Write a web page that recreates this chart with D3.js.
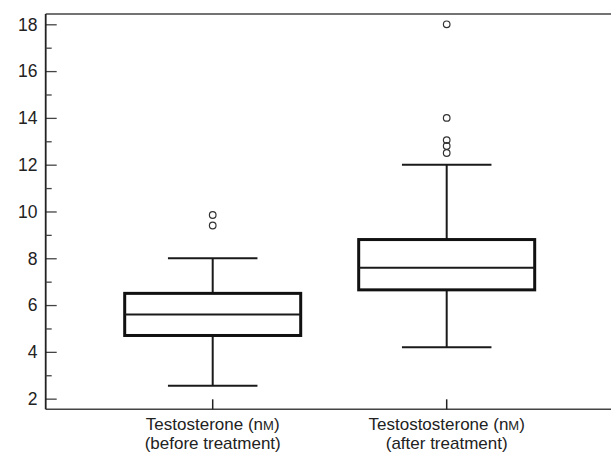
<!DOCTYPE html>
<html>
<head>
<meta charset="utf-8">
<script src="https://cdn.jsdelivr.net/npm/d3@7"></script>
<style>
  html, body { margin: 0; padding: 0; background: #fff; }
  svg text { font-family: "Liberation Sans", Arial, sans-serif; fill: #222; }
</style>
</head>
<body>
<svg id="chart" width="611" height="453"></svg>
<script>
// ---- data ----
const categories = ["before", "after"];
const labelBase = ["Testosterone", "Testostosterone"];
const labelLine2 = ["(before treatment)", "(after treatment)"];
const whiskerLow = [2.55, 4.2];
const q1 = [4.7, 6.65];
const median = [5.6, 7.6];
const q3 = [6.5, 8.8];
const whiskerHigh = [8.0, 12.0];
const outliersBefore = [9.4, 9.85];
const outliersAfter = [12.5, 12.8, 13.05, 14.0, 18.0];
const majorTicks = [2, 4, 6, 8, 10, 12, 14, 16, 18];
const minorTicks = [3, 5, 7, 9, 11, 13, 15, 17];

const outliers = [outliersBefore, outliersAfter];
const boxes = categories.map((c, i) => ({
  cat: c, lo: whiskerLow[i], q1: q1[i], med: median[i], q3: q3[i], hi: whiskerHigh[i],
  out: outliers[i], l1: labelBase[i], l2: labelLine2[i]
}));

// ---- layout ----
const svg = d3.select("#chart");
const mLeft = 45.7, mRight = 613.7, mTop = 14, mBottom = 409.3;

const y = d3.scaleLinear().domain([1.545, 18.44]).range([mBottom, mTop]);
const x = d3.scalePoint().domain(categories).range([mLeft, mRight]).padding(0.7137);
const cx = c => x(c);
const boxW = 176, capW = 89.5;

const axisColor = "#444";
svg.append("line").attr("x1", mLeft).attr("x2", 611).attr("y1", mTop).attr("y2", mTop)
  .attr("stroke", axisColor).attr("stroke-width", 1.5);
svg.append("line").attr("x1", mLeft).attr("x2", 611).attr("y1", mBottom).attr("y2", mBottom)
  .attr("stroke", axisColor).attr("stroke-width", 1.5);

const yAxis = d3.axisRight(y).tickValues(majorTicks).tickSize(11).tickFormat("");
const gy = svg.append("g").attr("transform", `translate(${mLeft},0)`).call(yAxis);
gy.select(".domain").remove();
gy.selectAll(".tick line").attr("stroke", axisColor).attr("stroke-width", 1.3);
svg.append("line").attr("x1", mLeft).attr("x2", mLeft).attr("y1", mTop).attr("y2", mBottom)
  .attr("stroke", "#222").attr("stroke-width", 1.8);

const yMinor = d3.axisRight(y).tickValues(minorTicks).tickSize(6).tickFormat("");
const gm = svg.append("g").attr("transform", `translate(${mLeft},0)`).call(yMinor);
gm.select(".domain").remove();
gm.selectAll(".tick line").attr("stroke", axisColor).attr("stroke-width", 1.3);

svg.append("g").selectAll("text").data(majorTicks).join("text")
  .attr("x", 37.5).attr("y", d => y(d)).attr("dy", "0.36em")
  .attr("text-anchor", "end").attr("font-size", 17.5).text(d => d);

svg.append("g").selectAll("line").data(categories).join("line")
  .attr("x1", d => cx(d)).attr("x2", d => cx(d))
  .attr("y1", mBottom).attr("y2", mBottom - 10)
  .attr("stroke", "#222").attr("stroke-width", 1.5);

const lab = svg.append("g").selectAll("g").data(boxes).join("g");
lab.append("text").attr("x", d => cx(d.cat)).attr("y", 429.5)
  .attr("text-anchor", "middle").attr("font-size", 17)
  .each(function(d) {
    const t = d3.select(this);
    t.append("tspan").text(d.l1 + " (n");
    t.append("tspan").attr("font-size", 13).text("M");
    t.append("tspan").text(")");
  });
lab.append("text").attr("x", d => cx(d.cat)).attr("y", 449)
  .attr("text-anchor", "middle").attr("font-size", 17).text(d => d.l2);

const g = svg.append("g").selectAll("g").data(boxes).join("g");
g.append("line").attr("x1", d => cx(d.cat)).attr("x2", d => cx(d.cat))
  .attr("y1", d => y(d.hi)).attr("y2", d => y(d.q3))
  .attr("stroke", "#1a1a1a").attr("stroke-width", 2);
g.append("line").attr("x1", d => cx(d.cat)).attr("x2", d => cx(d.cat))
  .attr("y1", d => y(d.q1)).attr("y2", d => y(d.lo))
  .attr("stroke", "#1a1a1a").attr("stroke-width", 2);
g.append("line").attr("x1", d => cx(d.cat) - capW / 2).attr("x2", d => cx(d.cat) + capW / 2)
  .attr("y1", d => y(d.hi)).attr("y2", d => y(d.hi))
  .attr("stroke", "#1a1a1a").attr("stroke-width", 2);
g.append("line").attr("x1", d => cx(d.cat) - capW / 2).attr("x2", d => cx(d.cat) + capW / 2)
  .attr("y1", d => y(d.lo)).attr("y2", d => y(d.lo))
  .attr("stroke", "#1a1a1a").attr("stroke-width", 2);
g.append("rect").attr("x", d => cx(d.cat) - boxW / 2).attr("width", boxW)
  .attr("y", d => y(d.q3)).attr("height", d => y(d.q1) - y(d.q3))
  .attr("fill", "none").attr("stroke", "#111").attr("stroke-width", 3);
g.append("line").attr("x1", d => cx(d.cat) - boxW / 2).attr("x2", d => cx(d.cat) + boxW / 2)
  .attr("y1", d => y(d.med)).attr("y2", d => y(d.med))
  .attr("stroke", "#1a1a1a").attr("stroke-width", 2);
g.each(function(d) {
  d3.select(this).selectAll("circle").data(d.out).join("circle")
    .attr("cx", cx(d.cat)).attr("cy", v => y(v)).attr("r", 3.3)
    .attr("fill", "none").attr("stroke", "#333").attr("stroke-width", 1.2);
});
</script>
</body>
</html>
